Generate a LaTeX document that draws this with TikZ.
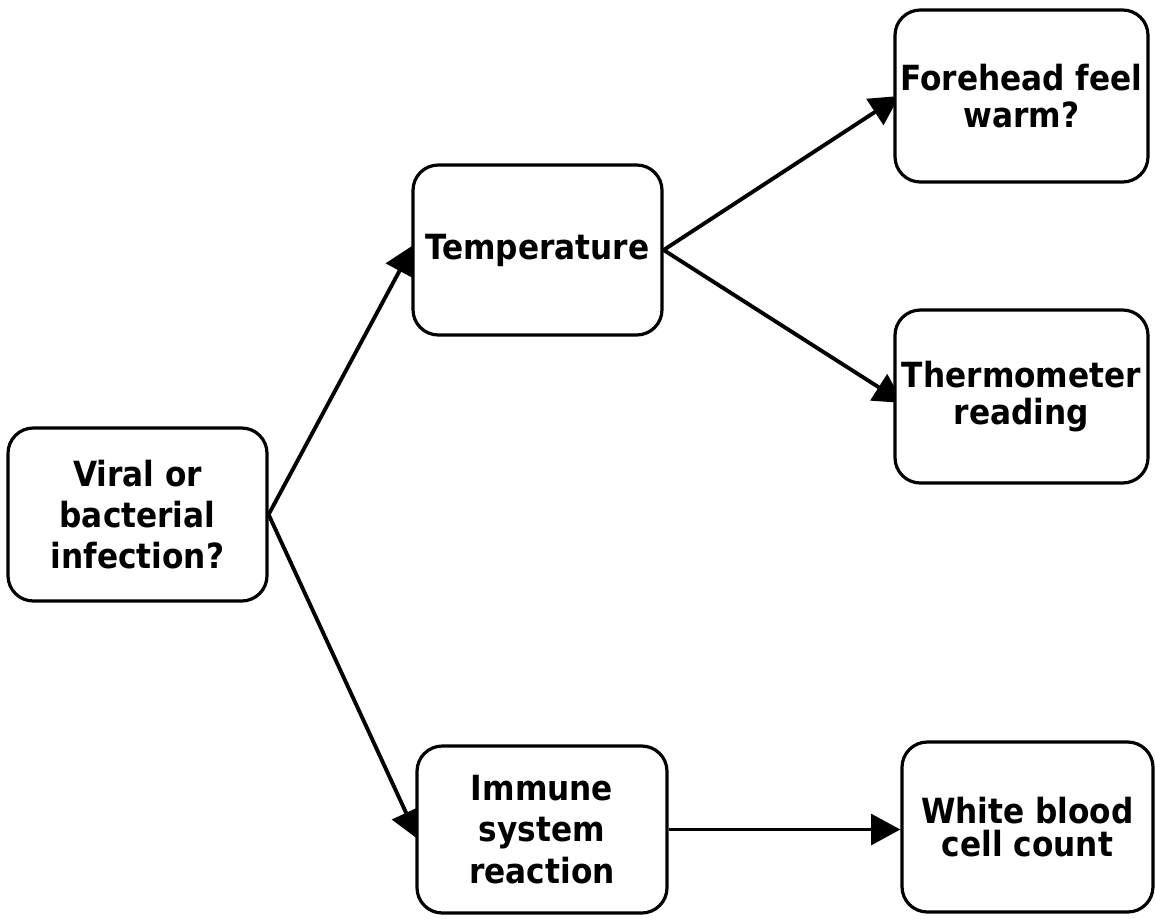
\documentclass[tikz,border=0pt]{standalone}
\usepackage{fontspec}
\setmainfont{DejaVu Sans Condensed}
\usetikzlibrary{arrows.meta,backgrounds,calc}
\begin{document}
\begin{tikzpicture}[x=0.75pt,y=-0.75pt,
  box/.style={draw=black, line width=2.4pt, rounded corners=19pt, fill=white,
    align=center, inner sep=0pt, font=\bfseries\fontsize{26}{31}\selectfont},
  conn/.style={line width=2.9pt, -{Triangle[length=22pt,width=23pt]}}]
\useasboundingbox (0,0) rectangle (1155,918);
\node[box, minimum width=194.25pt, minimum height=129.75pt] (A) at (137.5,514.5) {Viral or\\bacterial\\infection?};
\node[box, minimum width=186.75pt, minimum height=127.5pt] (B) at (537.5,250) {Temperature};
\node[box, minimum width=189.75pt, minimum height=129pt, font=\bfseries\fontsize{26}{28}\selectfont] (C) at (1021.5,96) {Forehead feel\\warm?};
\node[box, minimum width=189.75pt, minimum height=129.75pt, font=\bfseries\fontsize{26}{28}\selectfont] (D) at (1021.5,396.5) {Thermometer\\reading};
\node[box, minimum width=187.5pt, minimum height=125.25pt] (E) at (542,829.5) {Immune\\system\\reaction};
\node[box, minimum width=188.25pt, minimum height=127.5pt, font=\bfseries\fontsize{26}{25}\selectfont] (F) at (1027.5,827) {White blood\\cell count};
\begin{scope}[on background layer]
\draw[conn] (A.east) -- ($(B.west)+(2,-5)$);
\draw[conn] (A.east) -- ($(E.west)+(3,10)$);
\draw[conn] (B.east) -- ($(C.west)+(6,0)$);
\draw[conn] (B.east) -- ($(D.west)+(10,6.5)$);
\draw[conn] (E.east) -- (E.east -| F.west);
\end{scope}
\end{tikzpicture}
\end{document}
